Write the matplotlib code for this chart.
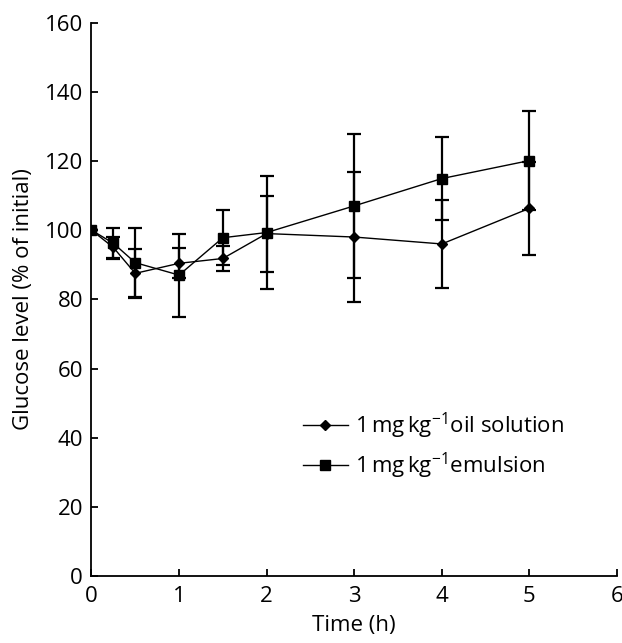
import matplotlib
matplotlib.use("Agg")
import matplotlib.pyplot as plt

plt.rcParams['font.family'] = ['Open Sans', 'DejaVu Sans']
plt.rcParams['mathtext.fontset'] = 'custom'
plt.rcParams['mathtext.rm'] = 'Open Sans'
plt.rcParams['mathtext.it'] = 'Open Sans'
plt.rcParams['mathtext.bf'] = 'Open Sans'

time_h = [0, 0.25, 0.5, 1, 1.5, 2, 3, 4, 5]
oil_mean = [100, 95.0, 87.5, 90.4, 91.8, 99.0, 98.0, 96.0, 106.3]
oil_sd = [0, 3.0, 7.0, 4.3, 3.6, 11.0, 18.7, 12.7, 13.5]
emu_mean = [100, 96.2, 90.6, 87.0, 97.8, 99.3, 107.0, 114.9, 120.1]
emu_sd = [0, 4.5, 10.0, 12.0, 8.0, 16.3, 20.9, 12.0, 14.3]

oil_label = r'1$\,$mg$\,$kg$^{-1}$oil solution'
emu_label = r'1$\,$mg$\,$kg$^{-1}$emulsion'

FS = 16

fig = plt.figure(figsize=(6.22, 6.43), dpi=100)
ax = fig.add_axes([0.147, 0.104, 0.845, 0.861])

ax.errorbar(time_h, emu_mean, yerr=emu_sd, color='black', marker='s',
            markersize=7.5, linewidth=1.0, elinewidth=1.6, capsize=5,
            capthick=1.6, label=emu_label, zorder=3)
ax.errorbar(time_h, oil_mean, yerr=oil_sd, color='black', marker='D',
            markersize=5.5, linewidth=1.0, elinewidth=1.6, capsize=5,
            capthick=1.6, label=oil_label, zorder=3)

ax.set_xlim(0, 6)
ax.set_ylim(0, 160)
ax.set_xticks(range(0, 7))
ax.set_yticks(range(0, 161, 20))
for s in ['top', 'right']:
    ax.spines[s].set_visible(False)
for s in ['left', 'bottom']:
    ax.spines[s].set_linewidth(1.3)
ax.tick_params(axis='y', direction='in', length=5, width=1.3, labelsize=FS, pad=6)
ax.tick_params(axis='x', direction='in', length=5, width=1.3, labelsize=FS, pad=7)
ax.set_xlabel('Time (h)', fontsize=FS, labelpad=6)
ax.set_ylabel('Glucose level (% of initial)', fontsize=FS, labelpad=8)

h, l = ax.get_legend_handles_labels()
handles = [h[1][0], h[0][0]]
labels = [l[1], l[0]]
ax.legend(handles, labels, loc='upper left', bbox_to_anchor=(0.365, 0.335),
          frameon=False, fontsize=FS, handlelength=2.0, handletextpad=0.35,
          labelspacing=0.45)

fig.savefig('out.png', dpi=100)
